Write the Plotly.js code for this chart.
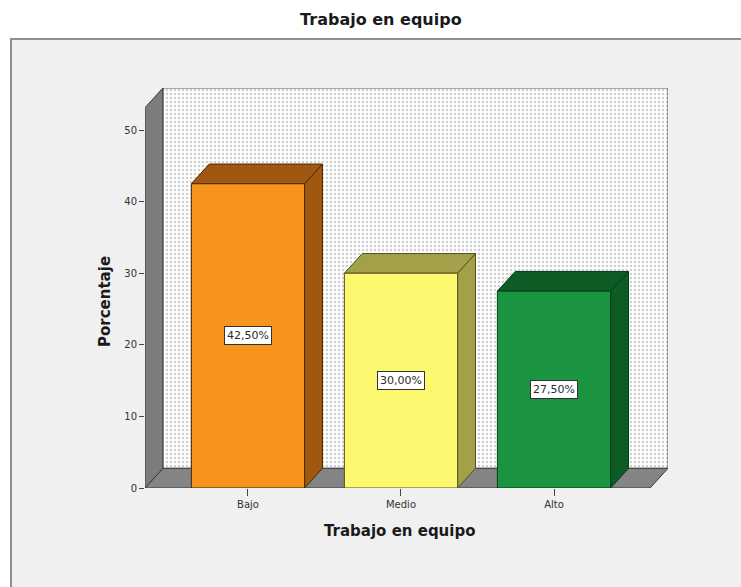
<!DOCTYPE html>
<html>
<head>
<meta charset="utf-8">
<script src="https://cdn.plot.ly/plotly-3.0.1.min.js"></script>
<style>
  html, body { margin: 0; padding: 0; background: #ffffff; }
  #frame {
    position: absolute; left: 10px; top: 38px; width: 740px; height: 560px;
    background: #f0f0f0; border-top: 2px solid #909090; border-left: 2px solid #909090;
    box-sizing: border-box;
  }
  #chart { position: absolute; left: 0; top: 0; width: 741px; height: 587px; }
</style>
</head>
<body>
<div id="frame"></div>
<div id="chart"></div>
<script>
// Categories and percentages
const categories = ['Bajo', 'Medio', 'Alto'];
const percentages = [42.5, 30.0, 27.5];
const yTicks = [0, 10, 20, 30, 40, 50];

// Face colours for each bar: front, shaded (top/side), outline
const frontColors = ['#f7941d', '#fcf870', '#1a9440'];
const shadeColors = ['#a0570f', '#a3a04a', '#0d5b25'];
const edgeColors = ['#4a2800', '#55531c', '#083a17'];

// Axis extents and pseudo-3D depth (in data units)
const X_MIN = -0.673, X_MAX = 2.745;
const Y_MAX = 55.87;
const DX = 0.117, DY = 2.75;
const HALF = 0.37;

const traces = [];
function poly(xs, ys, fill, line, extra) {
  traces.push(Object.assign({
    type: 'scatter', mode: 'lines', fill: 'toself',
    x: xs.concat([xs[0]]), y: ys.concat([ys[0]]),
    fillcolor: fill, line: { color: line, width: 1 },
    hoverinfo: 'skip', showlegend: false
  }, extra || {}));
}

// Back wall with dotted texture
poly([X_MIN + DX, X_MAX, X_MAX, X_MIN + DX], [DY, DY, Y_MAX, Y_MAX], '#ffffff', '#555555', {
  fillpattern: { shape: '.', size: 4, solidity: 0.3, fgcolor: '#cfcfcf', bgcolor: '#ffffff' }
});
// Floor
poly([X_MIN, X_MIN + DX, X_MAX, X_MAX - DX], [0, DY, DY, 0], '#848484', '#3a3a3a');
// Left wall
poly([X_MIN, X_MIN, X_MIN + DX, X_MIN + DX], [0, Y_MAX - DY, Y_MAX, DY], '#7c7c7c', '#3a3a3a');

// Bars: side face, top face, front face
percentages.forEach((v, i) => {
  const l = i - HALF, r = i + HALF;
  poly([r, r, r + DX, r + DX], [0, v, v + DY, DY], shadeColors[i], edgeColors[i]);
  poly([l, r, r + DX, l + DX], [v, v, v + DY, v + DY], shadeColors[i], edgeColors[i]);
  poly([l, r, r, l], [0, 0, v, v], frontColors[i], edgeColors[i]);
});

// Value labels at mid-height of each bar
const annotations = percentages.map((v, i) => ({
  x: i, y: v / 2, xref: 'x', yref: 'y',
  text: v.toFixed(2).replace('.', ',') + '%',
  showarrow: false,
  font: { family: 'DejaVu Sans, sans-serif', size: 11, color: '#2a2a2a' },
  bgcolor: '#ffffff', bordercolor: '#333333', borderwidth: 1, borderpad: 2
}));

const axisTitleFont = { family: 'DejaVu Sans, sans-serif', size: 15, color: '#1a1a1a', weight: 'bold' };

// Axis titles
annotations.push({
  text: 'Porcentaje', textangle: -90, showarrow: false,
  xref: 'paper', yref: 'paper', x: -0.0765, y: 0.4675,
  xanchor: 'center', yanchor: 'middle', font: axisTitleFont
});
annotations.push({
  text: 'Trabajo en equipo', showarrow: false,
  xref: 'paper', yref: 'paper', x: 0.4857, y: -0.1075,
  xanchor: 'center', yanchor: 'middle', font: axisTitleFont
});

const layout = {
  width: 741, height: 587,
  margin: { l: 145, r: 73, t: 88, b: 99, pad: 0 },
  paper_bgcolor: 'rgba(0,0,0,0)', plot_bgcolor: 'rgba(0,0,0,0)',
  font: { family: 'DejaVu Sans, sans-serif', size: 10, color: '#333333' },
  title: {
    text: 'Trabajo en equipo',
    font: { family: 'DejaVu Sans, sans-serif', size: 16, color: '#1a1a1a', weight: 'bold' },
    xref: 'container', x: 0.514, xanchor: 'center',
    yref: 'container', y: 1 - 19 / 587, yanchor: 'middle'
  },
  xaxis: {
    range: [X_MIN, X_MAX], tickvals: categories.map((c, i) => i), ticktext: categories,
    showgrid: false, zeroline: false, showline: false,
    ticks: 'outside', ticklen: 7, tickcolor: '#444444',
    tickfont: { size: 10, color: '#333333' },
    fixedrange: true
  },
  yaxis: {
    range: [0, Y_MAX], tickvals: yTicks,
    showgrid: false, zeroline: false, showline: false,
    ticks: 'outside', ticklen: 5, tickcolor: '#444444',
    tickfont: { size: 10, color: '#333333' },
    fixedrange: true
  },
  annotations: annotations,
  showlegend: false
};

Plotly.newPlot('chart', traces, layout, { displayModeBar: false, staticPlot: true });
</script>
</body>
</html>
